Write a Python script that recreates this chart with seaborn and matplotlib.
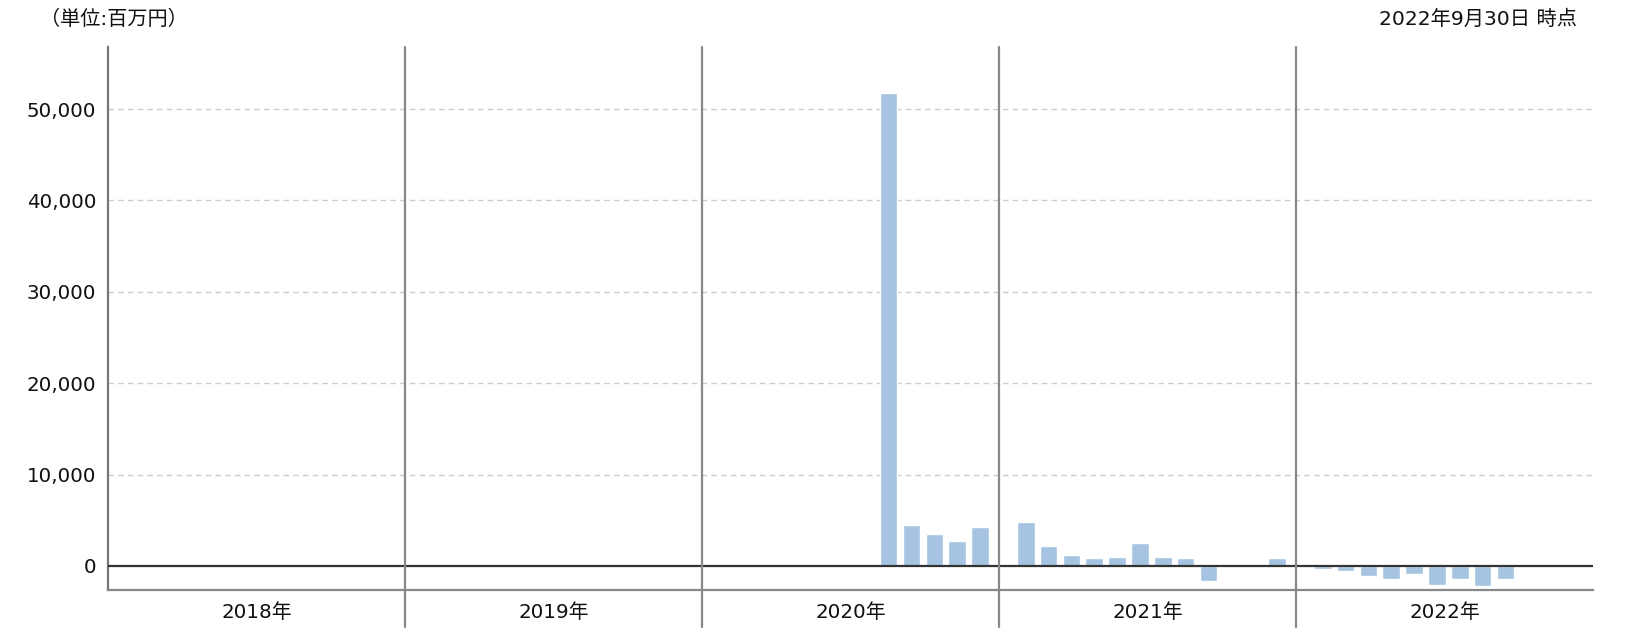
import matplotlib
matplotlib.use("Agg")
import matplotlib.pyplot as plt
import matplotlib.ticker as mticker
import seaborn as sns
import pandas as pd

# ---- data (百万円) ----
years = [2018, 2019, 2020, 2021, 2022]
year_labels = ["2018年", "2019年", "2020年", "2021年", "2022年"]
months = list(range(1, 13))
vals_2018 = [None] * 12
vals_2019 = [None] * 12
vals_2020 = [None, None, None, None, None, None, None, 51750, 4490, 3500, 2740, 4270]
vals_2021 = [4810, 2190, 1200, 880, 980, 2520, 980, 880, -1600, 0, 0, 880]
vals_2022 = [-330, -580, -1100, -1450, -870, -2100, -1450, -2200, -1450, None, None, None]
y_ticks = [0, 10000, 20000, 30000, 40000, 50000]
unit_text = "（単位:百万円）"
date_text = "2022年9月30日 時点"

all_vals = [vals_2018, vals_2019, vals_2020, vals_2021, vals_2022]

sns.set_theme(style="white")
plt.rcParams["font.family"] = ["DejaVu Sans", "Noto Sans CJK JP"]

BLOCK = 13
OFFSET = 1.17
FS = 14.3

rows = []
for yi, vals in enumerate(all_vals):
    for m, v in zip(months, vals):
        if v is None:
            continue
        rows.append({"pos": BLOCK * yi + OFFSET + (m - 1), "value": v})
df = pd.DataFrame(rows)

fig = plt.figure(figsize=(16.52, 6.44), dpi=100)
ax = fig.add_axes([108 / 1652, 1 - 590 / 644, (1593 - 108) / 1652, (590 - 47) / 644])

sns.barplot(data=df, x="pos", y="value", native_scale=True, width=0.77,
            color="#a6c4e1", saturation=1, ax=ax, zorder=2, errorbar=None)

ax.set_xlim(0, BLOCK * len(years))
ax.set_ylim(-2626, 56784)
ax.set_yticks(y_ticks)
ax.yaxis.set_major_formatter(mticker.FuncFormatter(lambda v, p: f"{int(v):,}"))
ax.set_xticks([])
ax.set_xlabel("")
ax.set_ylabel("")
ax.tick_params(axis="y", length=0, pad=8.5, labelsize=FS, labelcolor="#111111")

for t in y_ticks[1:]:
    ax.axhline(t, color="#cccccc", lw=1, ls=(0, (4, 3)), zorder=1)
ax.axhline(0, color="#333333", lw=1.6, zorder=3)

for yi in range(1, len(years)):
    ax.axvline(BLOCK * yi, ymin=-0.068, ymax=1, color="#888888", lw=1.6,
               clip_on=False, zorder=4)

trans = matplotlib.transforms.blended_transform_factory(ax.transData, ax.transAxes)
for yi, lab in enumerate(year_labels):
    ax.text(BLOCK * yi + BLOCK / 2, -0.042, lab, transform=trans, ha="center",
            va="center", fontsize=FS, color="#111111")

for s in ["top", "right"]:
    ax.spines[s].set_visible(False)
ax.spines["left"].set_color("#777777")
ax.spines["left"].set_linewidth(1.6)
ax.spines["bottom"].set_color("#888888")
ax.spines["bottom"].set_linewidth(1.6)

fig.text(40 / 1652, 1 - 19 / 644, unit_text, ha="left", va="center",
         fontsize=14.5, color="#111111")
fig.text(1577 / 1652, 1 - 19 / 644, date_text, ha="right", va="center",
         fontsize=14.6, color="#111111")

fig.savefig("out.png", dpi=100)
